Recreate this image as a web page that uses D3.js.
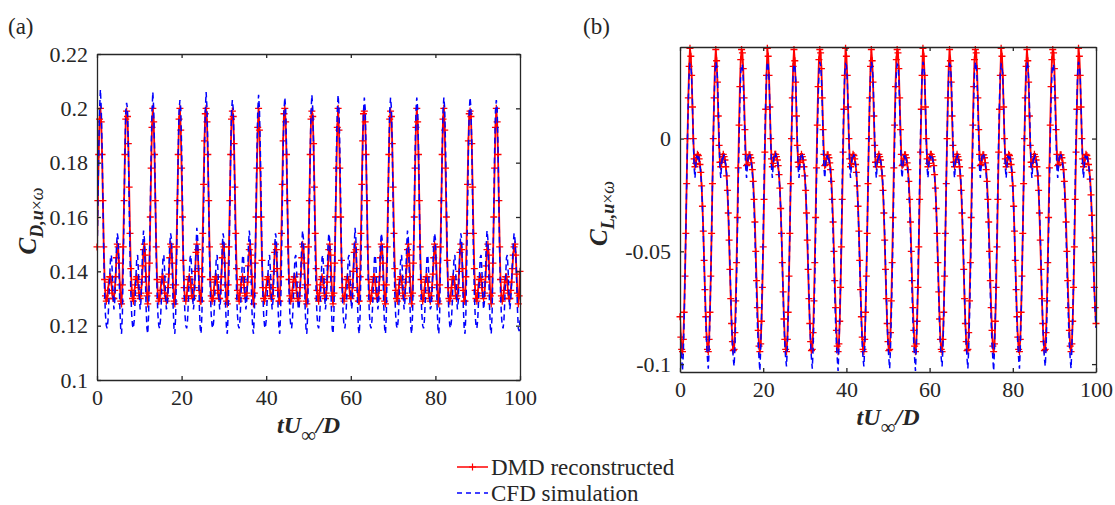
<!DOCTYPE html>
<html>
<head>
<meta charset="utf-8">
<script src="https://cdn.jsdelivr.net/npm/d3@7"></script>
<style>
  body { margin: 0; background: #fff; }
  svg { display: block; }
</style>
</head>
<body>
<div id="chart"></div>
<script>
// sampling step of the time series (tU/D)
const dt = 0.2;

// panel (a): drag coefficient, one shedding cycle per line
const dragDMD = [
  0.149, 0.166, 0.183, 0.196,
  0.200, 0.195, 0.183, 0.166, 0.149, 0.137, 0.131, 0.129, 0.130, 0.133, 0.136, 0.138, 0.138, 0.136, 0.132, 0.130, 0.130, 0.133, 0.138, 0.145, 0.150, 0.149, 0.143, 0.135, 0.129, 0.128, 0.135, 0.149, 0.166, 0.183, 0.196,
  0.199, 0.197, 0.187, 0.171, 0.154, 0.141, 0.133, 0.130, 0.129, 0.132, 0.135, 0.137, 0.138, 0.137, 0.134, 0.131, 0.130, 0.132, 0.136, 0.142, 0.148, 0.150, 0.146, 0.138, 0.131, 0.128, 0.132, 0.143, 0.160, 0.178, 0.193,
  0.200, 0.195, 0.183, 0.166, 0.149, 0.137, 0.131, 0.129, 0.130, 0.133, 0.136, 0.138, 0.138, 0.136, 0.132, 0.130, 0.129, 0.131, 0.134, 0.139, 0.145, 0.150, 0.149, 0.143, 0.135, 0.129, 0.128, 0.135, 0.149, 0.166, 0.183, 0.196,
  0.200, 0.192, 0.178, 0.160, 0.144, 0.134, 0.130, 0.129, 0.131, 0.134, 0.137, 0.138, 0.137, 0.135, 0.131, 0.130, 0.131, 0.134, 0.140, 0.147, 0.150, 0.148, 0.141, 0.133, 0.129, 0.129, 0.138, 0.154, 0.172, 0.188, 0.198,
  0.200, 0.195, 0.183, 0.166, 0.149, 0.137, 0.131, 0.129, 0.130, 0.133, 0.136, 0.138, 0.138, 0.136, 0.132, 0.130, 0.130, 0.133, 0.138, 0.145, 0.150, 0.149, 0.143, 0.135, 0.129, 0.128, 0.135, 0.149, 0.166, 0.183, 0.196,
  0.199, 0.197, 0.187, 0.171, 0.154, 0.141, 0.133, 0.130, 0.129, 0.132, 0.135, 0.137, 0.138, 0.137, 0.134, 0.131, 0.130, 0.132, 0.136, 0.142, 0.148, 0.150, 0.146, 0.138, 0.131, 0.128, 0.132, 0.143, 0.160, 0.178, 0.193,
  0.200, 0.192, 0.178, 0.160, 0.144, 0.134, 0.130, 0.129, 0.131, 0.134, 0.137, 0.138, 0.137, 0.135, 0.131, 0.130, 0.131, 0.134, 0.140, 0.147, 0.150, 0.148, 0.141, 0.133, 0.129, 0.129, 0.138, 0.154, 0.172, 0.188, 0.198,
  0.200, 0.195, 0.183, 0.166, 0.149, 0.137, 0.131, 0.129, 0.130, 0.133, 0.136, 0.138, 0.138, 0.136, 0.132, 0.130, 0.129, 0.131, 0.134, 0.139, 0.145, 0.150, 0.149, 0.143, 0.135, 0.129, 0.128, 0.135, 0.149, 0.166, 0.183, 0.196,
  0.199, 0.197, 0.187, 0.171, 0.154, 0.141, 0.133, 0.130, 0.129, 0.132, 0.135, 0.137, 0.138, 0.137, 0.134, 0.131, 0.130, 0.132, 0.136, 0.142, 0.148, 0.150, 0.146, 0.138, 0.131, 0.128, 0.132, 0.143, 0.160, 0.178, 0.193,
  0.200, 0.192, 0.178, 0.160, 0.144, 0.134, 0.130, 0.129, 0.131, 0.134, 0.137, 0.138, 0.137, 0.135, 0.131, 0.130, 0.131, 0.134, 0.140, 0.147, 0.150, 0.148, 0.141, 0.133, 0.129, 0.129, 0.138, 0.154, 0.172, 0.188, 0.198,
  0.199, 0.195, 0.183, 0.166, 0.149, 0.137, 0.131, 0.129, 0.130, 0.133, 0.136, 0.138, 0.138, 0.136, 0.132, 0.130, 0.130, 0.133, 0.138, 0.145, 0.150, 0.149, 0.143, 0.135, 0.129, 0.128, 0.135, 0.149, 0.166, 0.183, 0.196,
  0.199, 0.197, 0.187, 0.171, 0.154, 0.141, 0.133, 0.130, 0.129, 0.132, 0.135, 0.137, 0.138, 0.137, 0.134, 0.131, 0.130, 0.132, 0.136, 0.142, 0.148, 0.150, 0.146, 0.138, 0.131, 0.128, 0.132, 0.143, 0.160, 0.178, 0.193,
  0.200, 0.195, 0.183, 0.166, 0.149, 0.137, 0.131, 0.129, 0.130, 0.133, 0.136, 0.138, 0.138, 0.136, 0.132, 0.130, 0.129, 0.131, 0.134, 0.139, 0.145, 0.150, 0.149, 0.143, 0.135, 0.129, 0.128, 0.135, 0.149, 0.166, 0.183, 0.196,
  0.200, 0.192, 0.178, 0.160, 0.144, 0.134, 0.130, 0.129, 0.131, 0.134, 0.137, 0.138, 0.137, 0.135, 0.131, 0.130, 0.131, 0.134, 0.140, 0.147, 0.150, 0.148, 0.141, 0.133, 0.129, 0.129, 0.138, 0.154, 0.172, 0.188, 0.198,
  0.199, 0.197, 0.187, 0.171, 0.154, 0.141, 0.133, 0.130, 0.129, 0.132, 0.135, 0.137, 0.138, 0.137, 0.134, 0.131, 0.130, 0.132, 0.136, 0.142, 0.148, 0.150, 0.146, 0.138, 0.131, 0.128, 0.132, 0.143, 0.160, 0.178, 0.193,
  0.200, 0.195, 0.183, 0.166, 0.149, 0.137, 0.131, 0.129, 0.130, 0.133, 0.136, 0.138, 0.138, 0.136, 0.132, 0.130, 0.130, 0.133, 0.136, 0.141, 0.146, 0.149, 0.150, 0.146, 0.139, 0.132, 0.128, 0.131, 0.140
];

const dragCFD = [
  0.142, 0.163, 0.184, 0.199,
  0.207, 0.200, 0.186, 0.166, 0.146, 0.132, 0.124, 0.120, 0.119, 0.122, 0.129, 0.138, 0.145, 0.146, 0.140, 0.131, 0.126, 0.129, 0.138, 0.149, 0.154, 0.152, 0.141, 0.127, 0.119, 0.117, 0.124, 0.142, 0.163, 0.184, 0.199,
  0.202, 0.200, 0.186, 0.166, 0.146, 0.132, 0.124, 0.120, 0.119, 0.122, 0.129, 0.138, 0.145, 0.146, 0.140, 0.131, 0.126, 0.129, 0.138, 0.149, 0.155, 0.152, 0.141, 0.127, 0.119, 0.117, 0.124, 0.142, 0.163, 0.184, 0.199,
  0.206, 0.200, 0.186, 0.166, 0.146, 0.132, 0.124, 0.120, 0.119, 0.122, 0.129, 0.138, 0.145, 0.146, 0.140, 0.131, 0.126, 0.127, 0.132, 0.141, 0.150, 0.154, 0.152, 0.141, 0.127, 0.119, 0.117, 0.124, 0.142, 0.163, 0.184, 0.199,
  0.203, 0.200, 0.186, 0.166, 0.146, 0.132, 0.124, 0.120, 0.119, 0.122, 0.129, 0.138, 0.145, 0.146, 0.140, 0.131, 0.126, 0.129, 0.138, 0.149, 0.156, 0.152, 0.141, 0.127, 0.119, 0.117, 0.124, 0.142, 0.163, 0.184, 0.199,
  0.206, 0.200, 0.186, 0.166, 0.146, 0.132, 0.124, 0.120, 0.119, 0.122, 0.129, 0.138, 0.145, 0.146, 0.140, 0.131, 0.126, 0.129, 0.138, 0.149, 0.154, 0.152, 0.141, 0.127, 0.119, 0.117, 0.124, 0.142, 0.163, 0.184, 0.199,
  0.203, 0.200, 0.186, 0.166, 0.146, 0.132, 0.124, 0.120, 0.119, 0.122, 0.129, 0.138, 0.145, 0.146, 0.140, 0.131, 0.126, 0.129, 0.138, 0.149, 0.155, 0.152, 0.141, 0.127, 0.119, 0.117, 0.124, 0.142, 0.163, 0.184, 0.199,
  0.205, 0.200, 0.186, 0.166, 0.146, 0.132, 0.124, 0.120, 0.119, 0.122, 0.129, 0.138, 0.145, 0.146, 0.140, 0.131, 0.126, 0.129, 0.138, 0.149, 0.154, 0.152, 0.141, 0.127, 0.119, 0.117, 0.124, 0.142, 0.163, 0.184, 0.199,
  0.204, 0.200, 0.186, 0.166, 0.146, 0.132, 0.124, 0.120, 0.119, 0.122, 0.129, 0.138, 0.145, 0.146, 0.140, 0.131, 0.126, 0.127, 0.132, 0.141, 0.150, 0.155, 0.152, 0.141, 0.127, 0.119, 0.117, 0.124, 0.142, 0.163, 0.184, 0.199,
  0.205, 0.200, 0.186, 0.166, 0.146, 0.132, 0.124, 0.120, 0.119, 0.122, 0.129, 0.138, 0.145, 0.146, 0.140, 0.131, 0.126, 0.129, 0.138, 0.149, 0.154, 0.152, 0.141, 0.127, 0.119, 0.117, 0.124, 0.142, 0.163, 0.184, 0.199,
  0.205, 0.200, 0.186, 0.166, 0.146, 0.132, 0.124, 0.120, 0.119, 0.122, 0.129, 0.138, 0.145, 0.146, 0.140, 0.131, 0.126, 0.129, 0.138, 0.149, 0.156, 0.152, 0.141, 0.127, 0.119, 0.117, 0.124, 0.142, 0.163, 0.184, 0.199,
  0.204, 0.200, 0.186, 0.166, 0.146, 0.132, 0.124, 0.120, 0.119, 0.122, 0.129, 0.138, 0.145, 0.146, 0.140, 0.131, 0.126, 0.129, 0.138, 0.149, 0.154, 0.152, 0.141, 0.127, 0.119, 0.117, 0.124, 0.142, 0.163, 0.184, 0.199,
  0.204, 0.200, 0.186, 0.166, 0.146, 0.132, 0.124, 0.120, 0.119, 0.122, 0.129, 0.138, 0.145, 0.146, 0.140, 0.131, 0.126, 0.129, 0.138, 0.149, 0.155, 0.152, 0.141, 0.127, 0.119, 0.117, 0.124, 0.142, 0.163, 0.184, 0.199,
  0.204, 0.200, 0.186, 0.166, 0.146, 0.132, 0.124, 0.120, 0.119, 0.122, 0.129, 0.138, 0.145, 0.146, 0.140, 0.131, 0.126, 0.127, 0.132, 0.141, 0.150, 0.154, 0.152, 0.141, 0.127, 0.119, 0.117, 0.124, 0.142, 0.163, 0.184, 0.199,
  0.204, 0.200, 0.186, 0.166, 0.146, 0.132, 0.124, 0.120, 0.119, 0.122, 0.129, 0.138, 0.145, 0.146, 0.140, 0.131, 0.126, 0.129, 0.138, 0.149, 0.154, 0.152, 0.141, 0.127, 0.119, 0.117, 0.124, 0.142, 0.163, 0.184, 0.199,
  0.204, 0.200, 0.186, 0.166, 0.146, 0.132, 0.124, 0.120, 0.119, 0.122, 0.129, 0.138, 0.145, 0.146, 0.140, 0.131, 0.126, 0.129, 0.138, 0.149, 0.155, 0.152, 0.141, 0.127, 0.119, 0.117, 0.124, 0.142, 0.163, 0.184, 0.199,
  0.203, 0.200, 0.186, 0.166, 0.146, 0.132, 0.124, 0.120, 0.119, 0.122, 0.129, 0.138, 0.145, 0.146, 0.140, 0.131, 0.126, 0.129, 0.135, 0.143, 0.150, 0.154, 0.152, 0.146, 0.137, 0.126, 0.119, 0.118, 0.122
];

// panel (b): lift coefficient
const liftDMD = [
  -0.079, -0.088, -0.0935, -0.0945, -0.089, -0.077, -0.061, -0.042, -0.020, 0.000, 0.018, 0.032,
  0.040, 0.0365, 0.028, 0.014, 0.000, -0.009, -0.0125, -0.011, -0.0085, -0.007, -0.0075, -0.009, -0.0115, -0.015, -0.021, -0.030, -0.041, -0.054, -0.067, -0.079, -0.088, -0.0935, -0.0945, -0.089, -0.077, -0.061, -0.042, -0.020, 0.000, 0.018, 0.032,
  0.0395, 0.0345, 0.025, 0.010, -0.003, -0.0105, -0.0125, -0.0105, -0.008, -0.007, -0.008, -0.0095, -0.0125, -0.0165, -0.023, -0.033, -0.045, -0.058, -0.071, -0.082, -0.090, -0.094, -0.0935, -0.086, -0.072, -0.055, -0.035, -0.013, 0.006, 0.023, 0.035,
  0.0395, 0.038, 0.031, 0.018, 0.004, -0.007, -0.012, -0.0115, -0.009, -0.0072, -0.0072, -0.0085, -0.0108, -0.0138, -0.019, -0.027, -0.037, -0.050, -0.063, -0.075, -0.085, -0.092, -0.0945, -0.091, -0.081, -0.066, -0.048, -0.027, -0.006, 0.013, 0.028,
  0.040, 0.0365, 0.028, 0.014, 0.000, -0.009, -0.0125, -0.011, -0.0085, -0.007, -0.007, -0.008, -0.0095, -0.012, -0.016, -0.022, -0.031, -0.042, -0.055, -0.068, -0.080, -0.089, -0.0935, -0.0945, -0.089, -0.077, -0.061, -0.042, -0.020, 0.000, 0.018, 0.032,
  0.0395, 0.0345, 0.025, 0.010, -0.003, -0.0105, -0.0125, -0.0105, -0.008, -0.007, -0.008, -0.0095, -0.0125, -0.0165, -0.023, -0.033, -0.045, -0.058, -0.071, -0.082, -0.090, -0.094, -0.0935, -0.086, -0.072, -0.055, -0.035, -0.013, 0.006, 0.023, 0.035,
  0.0395, 0.038, 0.031, 0.018, 0.004, -0.007, -0.012, -0.0115, -0.009, -0.0072, -0.0072, -0.0085, -0.0108, -0.0138, -0.019, -0.027, -0.037, -0.050, -0.063, -0.075, -0.085, -0.092, -0.0945, -0.091, -0.081, -0.066, -0.048, -0.027, -0.006, 0.013, 0.028,
  0.040, 0.0365, 0.028, 0.014, 0.000, -0.009, -0.0125, -0.011, -0.0085, -0.007, -0.0075, -0.009, -0.0115, -0.015, -0.021, -0.030, -0.041, -0.054, -0.067, -0.079, -0.088, -0.0935, -0.0945, -0.089, -0.077, -0.061, -0.042, -0.020, 0.000, 0.018, 0.032,
  0.0395, 0.0345, 0.025, 0.010, -0.003, -0.0105, -0.0125, -0.0105, -0.008, -0.007, -0.008, -0.0095, -0.0125, -0.0165, -0.023, -0.033, -0.045, -0.058, -0.071, -0.082, -0.090, -0.094, -0.0935, -0.086, -0.072, -0.055, -0.035, -0.013, 0.006, 0.023, 0.035,
  0.0395, 0.038, 0.031, 0.018, 0.004, -0.007, -0.012, -0.0115, -0.009, -0.0072, -0.0072, -0.0085, -0.0108, -0.0138, -0.019, -0.027, -0.037, -0.050, -0.063, -0.075, -0.085, -0.092, -0.0945, -0.091, -0.081, -0.066, -0.048, -0.027, -0.006, 0.013, 0.028,
  0.040, 0.0365, 0.028, 0.014, 0.000, -0.009, -0.0125, -0.011, -0.0085, -0.007, -0.007, -0.008, -0.0095, -0.012, -0.016, -0.022, -0.031, -0.042, -0.055, -0.068, -0.080, -0.089, -0.0935, -0.0945, -0.089, -0.077, -0.061, -0.042, -0.020, 0.000, 0.018, 0.032,
  0.0395, 0.0345, 0.025, 0.010, -0.003, -0.0105, -0.0125, -0.0105, -0.008, -0.007, -0.008, -0.0095, -0.0125, -0.0165, -0.023, -0.033, -0.045, -0.058, -0.071, -0.082, -0.090, -0.094, -0.0935, -0.086, -0.072, -0.055, -0.035, -0.013, 0.006, 0.023, 0.035,
  0.0395, 0.038, 0.031, 0.018, 0.004, -0.007, -0.012, -0.0115, -0.009, -0.0072, -0.0072, -0.0085, -0.0108, -0.0138, -0.019, -0.027, -0.037, -0.050, -0.063, -0.075, -0.085, -0.092, -0.0945, -0.091, -0.081, -0.066, -0.048, -0.027, -0.006, 0.013, 0.028,
  0.040, 0.0365, 0.028, 0.014, 0.000, -0.009, -0.0125, -0.011, -0.0085, -0.007, -0.0075, -0.009, -0.0115, -0.015, -0.021, -0.030, -0.041, -0.054, -0.067, -0.079, -0.088, -0.0935, -0.0945, -0.089, -0.077, -0.061, -0.042, -0.020, 0.000, 0.018, 0.032,
  0.0395, 0.0345, 0.025, 0.010, -0.003, -0.0105, -0.0125, -0.0105, -0.008, -0.007, -0.008, -0.0095, -0.0125, -0.0165, -0.023, -0.033, -0.045, -0.058, -0.071, -0.082, -0.090, -0.094, -0.0935, -0.086, -0.072, -0.055, -0.035, -0.013, 0.006, 0.023, 0.035,
  0.0395, 0.038, 0.031, 0.018, 0.004, -0.007, -0.012, -0.0115, -0.009, -0.0072, -0.0072, -0.0085, -0.0108, -0.0138, -0.019, -0.027, -0.037, -0.050, -0.063, -0.075, -0.085, -0.092, -0.0945, -0.091, -0.081, -0.066, -0.048, -0.027, -0.006, 0.013, 0.028,
  0.040, 0.0365, 0.028, 0.014, 0.000, -0.009, -0.0125, -0.011, -0.0085, -0.007, -0.0075, -0.009, -0.0115, -0.014, -0.018, -0.025, -0.034, -0.044, -0.055, -0.066, -0.075, -0.082
];

const liftCFD = [
  -0.0815, -0.091, -0.0975, -0.103, -0.095, -0.080, -0.062, -0.042, -0.020, 0.000, 0.017, 0.029,
  0.033, 0.0325, 0.027, 0.015, 0.000, -0.013, -0.0175, -0.012, -0.0075, -0.0085, -0.007, -0.0095, -0.0115, -0.0155, -0.0215, -0.0305, -0.042, -0.0555, -0.069, -0.0815, -0.091, -0.0975, -0.102, -0.093, -0.079, -0.062, -0.042, -0.020, 0.000, 0.017, 0.029,
  0.034, 0.0325, 0.027, 0.015, 0.000, -0.013, -0.0175, -0.012, -0.0075, -0.0085, -0.007, -0.0095, -0.0115, -0.0155, -0.0215, -0.0305, -0.042, -0.0555, -0.069, -0.0815, -0.091, -0.0975, -0.101, -0.093, -0.079, -0.062, -0.042, -0.020, 0.000, 0.017, 0.029,
  0.033, 0.0325, 0.027, 0.015, 0.000, -0.013, -0.0175, -0.012, -0.0075, -0.0085, -0.007, -0.0095, -0.0115, -0.0155, -0.0215, -0.0305, -0.042, -0.0555, -0.069, -0.0815, -0.091, -0.0975, -0.103, -0.093, -0.079, -0.062, -0.042, -0.020, 0.000, 0.017, 0.029,
  0.034, 0.0325, 0.027, 0.015, 0.000, -0.013, -0.0175, -0.012, -0.0075, -0.0085, -0.007, -0.008, -0.0095, -0.0125, -0.0165, -0.0225, -0.031, -0.043, -0.0565, -0.070, -0.082, -0.0915, -0.0975, -0.101, -0.093, -0.079, -0.062, -0.042, -0.020, 0.000, 0.017, 0.029,
  0.033, 0.0325, 0.027, 0.015, 0.000, -0.013, -0.0175, -0.012, -0.0075, -0.0085, -0.007, -0.0095, -0.0115, -0.0155, -0.0215, -0.0305, -0.042, -0.0555, -0.069, -0.0815, -0.091, -0.0975, -0.102, -0.093, -0.079, -0.062, -0.042, -0.020, 0.000, 0.017, 0.029,
  0.034, 0.0325, 0.027, 0.015, 0.000, -0.013, -0.0175, -0.012, -0.0075, -0.0085, -0.007, -0.0095, -0.0115, -0.0155, -0.0215, -0.0305, -0.042, -0.0555, -0.069, -0.0815, -0.091, -0.0975, -0.103, -0.093, -0.079, -0.062, -0.042, -0.020, 0.000, 0.017, 0.029,
  0.033, 0.0325, 0.027, 0.015, 0.000, -0.013, -0.0175, -0.012, -0.0075, -0.0085, -0.007, -0.0095, -0.0115, -0.0155, -0.0215, -0.0305, -0.042, -0.0555, -0.069, -0.0815, -0.091, -0.0975, -0.101, -0.093, -0.079, -0.062, -0.042, -0.020, 0.000, 0.017, 0.029,
  0.034, 0.0325, 0.027, 0.015, 0.000, -0.013, -0.0175, -0.012, -0.0075, -0.0085, -0.007, -0.0095, -0.0115, -0.0155, -0.0215, -0.0305, -0.042, -0.0555, -0.069, -0.0815, -0.091, -0.0975, -0.102, -0.093, -0.079, -0.062, -0.042, -0.020, 0.000, 0.017, 0.029,
  0.033, 0.0325, 0.027, 0.015, 0.000, -0.013, -0.0175, -0.012, -0.0075, -0.0085, -0.007, -0.0095, -0.0115, -0.0155, -0.0215, -0.0305, -0.042, -0.0555, -0.069, -0.0815, -0.091, -0.0975, -0.103, -0.093, -0.079, -0.062, -0.042, -0.020, 0.000, 0.017, 0.029,
  0.034, 0.0325, 0.027, 0.015, 0.000, -0.013, -0.0175, -0.012, -0.0075, -0.0085, -0.007, -0.008, -0.0095, -0.0125, -0.0165, -0.0225, -0.031, -0.043, -0.0565, -0.070, -0.082, -0.0915, -0.0975, -0.101, -0.093, -0.079, -0.062, -0.042, -0.020, 0.000, 0.017, 0.029,
  0.033, 0.0325, 0.027, 0.015, 0.000, -0.013, -0.0175, -0.012, -0.0075, -0.0085, -0.007, -0.0095, -0.0115, -0.0155, -0.0215, -0.0305, -0.042, -0.0555, -0.069, -0.0815, -0.091, -0.0975, -0.102, -0.093, -0.079, -0.062, -0.042, -0.020, 0.000, 0.017, 0.029,
  0.034, 0.0325, 0.027, 0.015, 0.000, -0.013, -0.0175, -0.012, -0.0075, -0.0085, -0.007, -0.0095, -0.0115, -0.0155, -0.0215, -0.0305, -0.042, -0.0555, -0.069, -0.0815, -0.091, -0.0975, -0.103, -0.093, -0.079, -0.062, -0.042, -0.020, 0.000, 0.017, 0.029,
  0.033, 0.0325, 0.027, 0.015, 0.000, -0.013, -0.0175, -0.012, -0.0075, -0.0085, -0.007, -0.0095, -0.0115, -0.0155, -0.0215, -0.0305, -0.042, -0.0555, -0.069, -0.0815, -0.091, -0.0975, -0.102, -0.093, -0.079, -0.062, -0.042, -0.020, 0.000, 0.017, 0.029,
  0.034, 0.0325, 0.027, 0.015, 0.000, -0.013, -0.0175, -0.012, -0.0075, -0.0085, -0.007, -0.0095, -0.0115, -0.0155, -0.0215, -0.0305, -0.042, -0.0555, -0.069, -0.0815, -0.091, -0.0975, -0.101, -0.093, -0.079, -0.062, -0.042, -0.020, 0.000, 0.017, 0.029,
  0.033, 0.0325, 0.027, 0.015, 0.000, -0.013, -0.0175, -0.012, -0.0075, -0.0085, -0.007, -0.0095, -0.0115, -0.0155, -0.0215, -0.0305, -0.042, -0.0555, -0.069, -0.0815, -0.091, -0.0975, -0.102, -0.093, -0.079, -0.062, -0.042, -0.020, 0.000, 0.017, 0.029,
  0.034, 0.0325, 0.027, 0.015, 0.000, -0.013, -0.0175, -0.012, -0.0075, -0.0085, -0.007, -0.0095, -0.0115, -0.0145, -0.019, -0.026, -0.035, -0.046, -0.057, -0.068, -0.077, -0.084
];

const xTicks = [0, 20, 40, 60, 80, 100];
const dragTicks = [0.1, 0.12, 0.14, 0.16, 0.18, 0.2, 0.22];
const dragTickLabels = ["0.1", "0.12", "0.14", "0.16", "0.18", "0.2", "0.22"];
const liftTicks = [-0.1, -0.05, 0];
const liftTickLabels = ["-0.1", "-0.05", "0"];
const legendLabels = ["DMD reconstructed", "CFD simulation"];

[["dragDMD", dragDMD], ["dragCFD", dragCFD], ["liftDMD", liftDMD], ["liftCFD", liftCFD]].forEach(([n, s]) => {
    if (s.length !== 501) throw new Error(n + " has " + s.length + " samples");
});

const width = 1115;
const height = 505;
const font = "'Liberation Serif', 'Times New Roman', serif";
const red = "#ff0000";
const blue = "#0000ff";
const axisColor = "#262626";

const svg = d3.select("#chart")
    .append("svg")
    .attr("width", width)
    .attr("height", height)
    .style("font-family", font);

const plus = "M-3.5,0H3.5M0,-3.5V3.5";

function drawPanel(p) {
    const x = d3.scaleLinear().domain([0, 100]).range([p.left, p.right]);
    const y = d3.scaleLinear().domain(p.yDomain).range([p.bottom, p.top]);

    const clipId = "clip-" + p.name;
    svg.append("clipPath").attr("id", clipId)
        .append("rect")
        .attr("x", p.left).attr("y", p.top)
        .attr("width", p.right - p.left).attr("height", p.bottom - p.top);

    const line = d3.line()
        .x((d, i) => x(i * dt))
        .y(d => y(d));

    const g = svg.append("g");

    g.append("path")
        .datum(p.dmd)
        .attr("d", line)
        .attr("fill", "none")
        .attr("stroke", red)
        .attr("stroke-width", 1.8)
        .attr("clip-path", `url(#${clipId})`);

    g.selectAll(".mk")
        .data(p.dmd)
        .enter().append("path")
        .attr("class", "mk")
        .attr("d", plus)
        .attr("transform", (d, i) => `translate(${x(i * dt)},${y(d)})`)
        .attr("stroke", red)
        .attr("stroke-width", 1.3)
        .attr("fill", "none");

    g.append("path")
        .datum(p.cfd)
        .attr("d", line)
        .attr("fill", "none")
        .attr("stroke", blue)
        .attr("stroke-width", 1.5)
        .attr("stroke-dasharray", "6,4")
        .attr("clip-path", `url(#${clipId})`);

    // box with inward ticks on all four sides
    const axes = [
        [d3.axisBottom(x).tickValues(xTicks), `translate(0,${p.bottom})`, true],
        [d3.axisTop(x).tickValues(xTicks), `translate(0,${p.top})`, false],
        [d3.axisLeft(y).tickValues(p.yTicks).tickFormat((d, i) => p.yLabels[i]), `translate(${p.left},0)`, true],
        [d3.axisRight(y).tickValues(p.yTicks), `translate(${p.right},0)`, false]
    ];
    axes.forEach(([ax, tr, labels]) => {
        const a = g.append("g")
            .attr("transform", tr)
            .call(ax.tickSizeInner(-4).tickSizeOuter(0).tickPadding(9));
        a.select(".domain").attr("stroke", axisColor).attr("stroke-width", 1.3);
        a.selectAll(".tick line").attr("stroke", axisColor).attr("stroke-width", 1.3);
        if (labels) {
            a.selectAll(".tick text")
                .attr("font-family", font)
                .attr("font-size", 22)
                .attr("fill", "#262626");
        } else {
            a.selectAll(".tick text").remove();
        }
    });

    // x label tU∞/D
    const cx = (p.left + p.right) / 2;
    const xl = g.append("text")
        .attr("x", cx)
        .attr("y", p.bottom + 53)
        .attr("text-anchor", "middle")
        .attr("font-size", 24)
        .attr("fill", "#262626");
    xl.append("tspan").attr("font-weight", "bold").attr("font-style", "italic").text("tU");
    xl.append("tspan").attr("dy", 9).attr("font-size", 21).text("∞");
    xl.append("tspan").attr("dy", -9).attr("font-weight", "bold").attr("font-style", "italic").text("/D");

    // y label C_{.,u×ω}
    const cy = (p.top + p.bottom) / 2 + 4;
    const yl = g.append("text")
        .attr("transform", `translate(${p.yLabelX},${cy}) rotate(-90)`)
        .attr("text-anchor", "middle")
        .attr("font-size", 25)
        .attr("fill", "#262626");
    yl.append("tspan").attr("font-weight", "bold").attr("font-style", "italic").text("C");
    yl.append("tspan").attr("dy", 7).attr("font-size", 18).attr("font-weight", "bold").attr("font-style", "italic").text(p.sub + ",u");
    yl.append("tspan").attr("font-size", 18).text("×");
    yl.append("tspan").attr("font-size", 18).attr("font-style", "italic").text("ω");

    svg.append("text")
        .attr("x", p.tagX)
        .attr("y", 34)
        .attr("font-size", 23)
        .attr("fill", "#262626")
        .text(p.tag);
}

drawPanel({
    name: "a", tag: "(a)", tagX: 8, sub: "D",
    left: 97, right: 520, top: 54, bottom: 380,
    yDomain: [0.1, 0.22], yTicks: dragTicks, yLabels: dragTickLabels,
    yLabelX: 36,
    dmd: dragDMD, cfd: dragCFD
});

drawPanel({
    name: "b", tag: "(b)", tagX: 583, sub: "L",
    left: 680, right: 1096, top: 47, bottom: 372,
    yDomain: [-0.1035, 0.0406], yTicks: liftTicks, yLabels: liftTickLabels,
    yLabelX: 607,
    dmd: liftDMD, cfd: liftCFD
});

// legend
const leg = svg.append("g");
const legRows = [
    { label: legendLabels[0], color: red, dash: null, marker: true, y: 467 },
    { label: legendLabels[1], color: blue, dash: "5,4", marker: false, y: 493 }
];
legRows.forEach(r => {
    leg.append("line")
        .attr("x1", 457).attr("x2", 488)
        .attr("y1", r.y).attr("y2", r.y)
        .attr("stroke", r.color)
        .attr("stroke-width", 1.5)
        .attr("stroke-dasharray", r.dash);
    if (r.marker) {
        leg.append("path")
            .attr("d", plus)
            .attr("transform", `translate(472.5,${r.y})`)
            .attr("stroke", r.color)
            .attr("stroke-width", 1.2);
    }
    leg.append("text")
        .attr("x", 491)
        .attr("y", r.y + 8)
        .attr("font-size", 23)
        .attr("fill", "#262626")
        .text(r.label);
});
</script>
</body>
</html>
